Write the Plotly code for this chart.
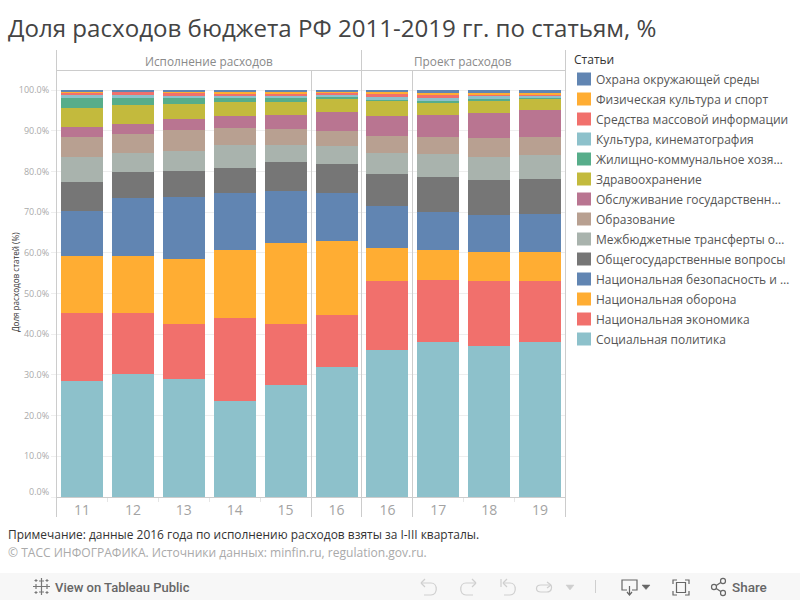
import re
import plotly.graph_objects as go

years = [11, 12, 13, 14, 15, 16, 16, 17, 18, 19]
y_ticks = [0, 10, 20, 30, 40, 50, 60, 70, 80, 90, 100]

# stacking order bottom -> top
series_names = ["Социальная политика", "Национальная экономика", "Национальная оборона",
                "Национальная безопасность и …", "Общегосударственные вопросы",
                "Межбюджетные трансферты о…", "Образование", "Обслуживание государственн…",
                "Здравоохранение", "Жилищно-коммунальное хозя…", "Культура, кинематография",
                "Средства массовой информации", "Физическая культура и спорт",
                "Охрана окружающей среды"]
series_colors = ["#8DC1CB", "#F1706C", "#FFAD33", "#6185B2", "#767676", "#A9B3AD", "#B8A091",
                 "#B97591", "#C3BA3D", "#57AD8A", "#8DC1CB", "#F1706C", "#FFAD33", "#6185B2"]

social = [28.6, 30.1, 28.9, 23.5, 27.4, 32.0, 36.2, 38.0, 37.2, 38.2]
economy = [16.5, 15.2, 13.7, 20.6, 15.0, 12.8, 16.8, 15.2, 15.8, 14.8]
defence = [14.0, 14.0, 15.8, 16.7, 20.1, 18.2, 8.3, 7.6, 7.1, 7.1]
security = [11.2, 14.2, 15.3, 13.9, 12.7, 11.7, 10.2, 9.2, 9.2, 9.4]
general = [7.1, 6.4, 6.4, 6.1, 7.1, 7.1, 7.9, 8.6, 8.6, 8.6]
transfers = [6.1, 4.6, 4.9, 5.7, 4.2, 4.4, 5.1, 5.7, 5.6, 5.9]
education = [5.0, 4.7, 5.2, 4.2, 3.9, 3.7, 4.2, 4.2, 4.7, 4.5]
state_debt = [2.4, 2.4, 2.7, 2.9, 3.5, 4.7, 4.9, 5.4, 6.1, 6.6]
health = [4.7, 4.7, 3.7, 3.5, 3.2, 3.2, 3.7, 2.9, 3.2, 2.7]
housing = [2.4, 1.7, 1.4, 0.9, 0.9, 0.5, 0.2, 0.6, 0.3, 0.2]
culture = [0.8, 0.8, 0.5, 0.5, 0.5, 0.5, 0.8, 0.6, 0.7, 0.5]
media = [0.5, 0.8, 0.8, 0.5, 0.5, 0.6, 0.7, 0.8, 0.5, 0.5]
sport = [0.4, 0.15, 0.45, 0.5, 0.5, 0.3, 0.6, 0.5, 0.3, 0.3]
environment = [0.3, 0.25, 0.25, 0.5, 0.5, 0.3, 0.4, 0.7, 0.7, 0.7]
series_values = [social, economy, defence, security, general, transfers, education,
                 state_debt, health, housing, culture, media, sport, environment]

FONT = "Open Sans"
W, H = 800, 600
px = lambda x: x / W
py = lambda y: 1 - y / H
positions = list(range(len(years)))

fig = go.Figure()
for name, color, values in zip(series_names, series_colors, series_values):
    fig.add_trace(go.Bar(x=positions, y=values, name=name, width=0.825,
                         marker=dict(color=color, line=dict(width=0)), showlegend=False))

shapes, ann = [], []


def line(x0, y0, x1, y1, color="#CCCCCC", width=1):
    shapes.append(dict(type="line", xref="paper", yref="paper", x0=px(x0), x1=px(x1),
                       y0=py(y0), y1=py(y1), line=dict(color=color, width=width), layer="above"))


def rect(x0, y0, x1, y1, color, layer="above"):
    shapes.append(dict(type="rect", xref="paper", yref="paper", x0=px(x0), x1=px(x1),
                       y0=py(y0), y1=py(y1), fillcolor=color, line=dict(width=0), layer=layer))


def text(x, y, s, size, color, anchor="left", angle=0, family=FONT, weight=None):
    f = dict(family=family, size=size, color=color)
    if weight:
        f["weight"] = weight
    ann.append(dict(xref="paper", yref="paper", x=px(x), y=py(y), text=s, showarrow=False,
                    xanchor=anchor, yanchor="middle", font=f, textangle=angle,
                    borderpad=0, borderwidth=0))


def path(d, color, width=1.2, fill=None):
    tokens = re.findall(r"[A-Za-z]|-?\d+\.?\d*", d)
    out, is_x = [], True
    for t in tokens:
        if t.isalpha():
            out.append(t)
            is_x = True
        else:
            out.append(f"{px(float(t)):.5f}" if is_x else f"{py(float(t)):.5f}")
            is_x = not is_x
    shapes.append(dict(type="path", xref="paper", yref="paper", path=" ".join(out),
                       line=dict(color=color, width=width), fillcolor=fill or "rgba(0,0,0,0)",
                       layer="above"))


# frame
for x in (56.5, 361.5, 565.5):
    line(x, 50, x, 517)
for x in (311.5, 412.5):
    line(x, 70, x, 517)
line(57, 70.5, 565, 70.5)
line(57, 497.5, 565, 497.5)
for x in (107.5, 158.5, 209.5, 260.5, 463.5, 514.5):
    line(x, 498, x, 502, "#E6E6E6")

# texts
text(8, 27, "Доля расходов бюджета РФ 2011-2019 гг. по статьям, %", 24.1, "#444444")
text(208.5, 60.5, "Исполнение расходов", 11.8, "#8A8A8A", "center")
text(463, 60.5, "Проект расходов", 11.8, "#8A8A8A", "center")
text(15, 282, "Доля расходов статей (%)", 8.1, "#333333", "center", -90)
text(49, 491, "0.0%", 9, "#AAAAAA", "right")
text(8, 534, "Примечание: данные 2016 года по исполнению расходов взяты за I-III кварталы.", 11.95, "#333333")
text(8, 552, "© ТАСС ИНФОГРАФИКА. Источники данных: minfin.ru, regulation.gov.ru.", 12.05, "#AAAAAA")

# legend
text(574, 60, "Статьи", 12, "#333333")
for i in range(len(series_names)):
    k = len(series_names) - 1 - i
    y = 79 + 20 * i
    rect(577, y - 6.5, 591, y + 6.5, series_colors[k])
    text(596, y + 0.5, series_names[k], 12, "#555555")

# toolbar
rect(0, 573, 800, 600, "#F7F7F7", "below")
text(55, 587, "View on Tableau Public", 13, "#666666", family="Roboto", weight=500)
text(732, 587, "Share", 13.5, "#666666", family="Roboto", weight=500)
ic = "#CFCFCF"
path("M421 583 L431 583 C438 583 438 595 431 595 L424 595", ic)
path("M421 583 L425 579 M421 583 L425 587", ic)
path("M476 583 L466 583 C459 583 459 595 466 595 L473 595", ic)
path("M476 583 L472 579 M476 583 L472 587", ic)
path("M503 583 L510 583 C517 583 517 595 510 595 L504 595", ic)
path("M503 583 L507 579 M503 583 L507 587 M501 579 L501 587", ic)
path("M551 585 L541 585 C535 585 535 592 541 592 L547 592 C552 592 552 587 551 585", ic)
path("M551 585 L547 582 M551 585 L547 588", ic)
path("M566 585 L574 585 L570 590 Z", ic, 0.5, ic)
line(595.5, 580, 595.5, 593, "#CFCFCF")
dk = "#666666"
path("M627 590 L622 590 L622 580 L637 580 L637 590 L632 590", dk)
path("M629.5 586 L629.5 594 M627 592 L629.5 595 L632 592", dk)
path("M642 585 L650 585 L646 589.5 Z", dk, 0.5, dk)
path("M673 584 L673 580 L677 580 M685 580 L689 580 L689 584 M689 591 L689 595 L685 595 M677 595 L673 595 L673 591", dk)
path("M676.5 582.5 L685.5 582.5 L685.5 592.5 L676.5 592.5 Z", dk)
path("M714 587 L723 581 M714 587 L723 593", dk)
path("M711.5 587 C711.5 583.5 716.5 583.5 716.5 587 C716.5 590.5 711.5 590.5 711.5 587 Z", dk, 1.2, "#F7F7F7")
path("M720.5 581 C720.5 577.5 725.5 577.5 725.5 581 C725.5 584.5 720.5 584.5 720.5 581 Z", dk, 1.2, "#F7F7F7")
path("M720.5 593 C720.5 589.5 725.5 589.5 725.5 593 C725.5 596.5 720.5 596.5 720.5 593 Z", dk, 1.2, "#F7F7F7")
lg = "#777777"
path("M41.5 578 L41.5 595 M33 586.5 L50 586.5 M39 581 L44 581 M39 592 L44 592 M36 584 L36 589 M47 584 L47 589", lg, 1.2)
path("M36 579 L36 582 M34.5 580.5 L37.5 580.5 M47 579 L47 582 M45.5 580.5 L48.5 580.5 M36 591 L36 594 M34.5 592.5 L37.5 592.5 M47 591 L47 594 M45.5 592.5 L48.5 592.5", lg, 1)

fig.update_layout(
    width=W, height=H, margin=dict(l=0, r=0, t=0, b=0, pad=0),
    paper_bgcolor="white", plot_bgcolor="white", barmode="stack", bargap=0,
    font=dict(family=FONT), showlegend=False, shapes=shapes, annotations=ann,
    xaxis=dict(domain=[px(57), px(565)], range=[-0.491, 9.489], tickmode="array",
               tickvals=positions, ticktext=[str(v) for v in years], ticks="", showgrid=False,
               zeroline=False, showline=False, tickfont=dict(family=FONT, size=14, color="#A3A3A3"),
               ticklabelstandoff=3),
    yaxis=dict(domain=[py(497), py(70)], range=[0, 104.914], tickmode="array", tickvals=y_ticks,
               ticktext=["" if v == 0 else f"{v}.0%" for v in y_ticks], ticks="outside", ticklen=5,
               tickcolor="#EEEEEE", tickwidth=1, showgrid=True, gridcolor="#EEEEEE", gridwidth=1,
               zeroline=False, showline=False, tickfont=dict(family=FONT, size=9, color="#AAAAAA"),
               ticklabelstandoff=0),
)
fig.write_html("out.html", config=dict(displayModeBar=False),
               post_script="document.body.style.margin='0';document.body.style.overflow='hidden';")
